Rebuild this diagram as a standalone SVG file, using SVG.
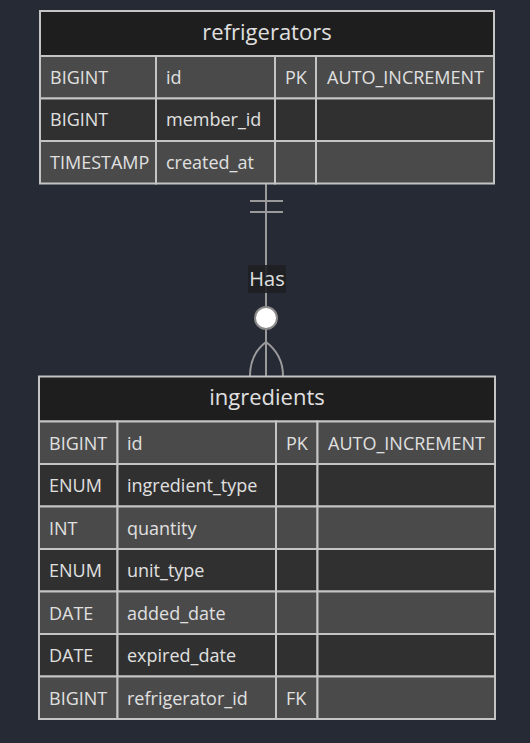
<svg xmlns="http://www.w3.org/2000/svg" width="530" height="743" viewBox="0 0 530 743">
<style>
text{font-family:"Open Sans","DejaVu Sans",sans-serif;fill:#e0e0e0}
.t{font-size:22px;text-anchor:middle}
.c{font-size:18px}
.hd{fill:#1e1e1e;stroke:#c4c4c4;stroke-width:2}
.o{fill:#4a4a4a;stroke:#c4c4c4;stroke-width:2}
.e{fill:#303030;stroke:#c4c4c4;stroke-width:2}
.ln{stroke:#9a9a9a;stroke-width:2;fill:none}
</style>
<rect width="530" height="743" fill="#262a35"/>
<g id="connectors">
<line class="ln" x1="266" y1="184" x2="266" y2="376"/>
<line class="ln" x1="250" y1="201" x2="283" y2="201"/>
<line class="ln" x1="250" y1="212" x2="283" y2="212"/>
<path class="ln" d="M250,376 C250,358 258,348 266,342 C274,348 283,358 283,376"/>
<circle cx="266" cy="318" r="11" fill="#ffffff" stroke="#8a8a8a" stroke-width="2"/>
<rect x="248" y="265" width="38" height="28" fill="#1e1f22" opacity="0.9"/>
<text x="267" y="286" text-anchor="middle" style="font-size:20px">Has</text>
</g>
<g id="refrigerators">
<rect class="hd" x="40" y="11" width="454" height="45"/>
<text class="t" x="267" y="40">refrigerators</text>
<rect class="o" x="40" y="56" width="116" height="42.5"/><rect class="o" x="156" y="56" width="119" height="42.5"/><rect class="o" x="275" y="56" width="41" height="42.5"/><rect class="o" x="316" y="56" width="178" height="42.5"/>
<rect class="e" x="40" y="98.5" width="116" height="42.5"/><rect class="e" x="156" y="98.5" width="119" height="42.5"/><rect class="e" x="275" y="98.5" width="41" height="42.5"/><rect class="e" x="316" y="98.5" width="178" height="42.5"/>
<rect class="o" x="40" y="141" width="116" height="42.5"/><rect class="o" x="156" y="141" width="119" height="42.5"/><rect class="o" x="275" y="141" width="41" height="42.5"/><rect class="o" x="316" y="141" width="178" height="42.5"/>
<text class="c" x="50" y="83.5">BIGINT</text><text class="c" x="166" y="83.5">id</text><text class="c" x="285" y="83.5">PK</text><text class="c" x="327" y="83.5">AUTO_INCREMENT</text>
<text class="c" x="50" y="126">BIGINT</text><text class="c" x="166" y="126">member_id</text>
<text class="c" x="50" y="168.5">TIMESTAMP</text><text class="c" x="166" y="168.5">created_at</text>
</g>
<g id="ingredients">
<rect class="hd" x="39" y="376.5" width="456" height="45"/>
<text class="t" x="267" y="405">ingredients</text>
<rect class="o" x="39" y="421.5" width="78.5" height="42.5"/><rect class="o" x="117.5" y="421.5" width="158.5" height="42.5"/><rect class="o" x="276" y="421.5" width="41.5" height="42.5"/><rect class="o" x="317.5" y="421.5" width="177.5" height="42.5"/>
<rect class="e" x="39" y="464" width="78.5" height="42.5"/><rect class="e" x="117.5" y="464" width="158.5" height="42.5"/><rect class="e" x="276" y="464" width="41.5" height="42.5"/><rect class="e" x="317.5" y="464" width="177.5" height="42.5"/>
<rect class="o" x="39" y="506.5" width="78.5" height="42.5"/><rect class="o" x="117.5" y="506.5" width="158.5" height="42.5"/><rect class="o" x="276" y="506.5" width="41.5" height="42.5"/><rect class="o" x="317.5" y="506.5" width="177.5" height="42.5"/>
<rect class="e" x="39" y="549" width="78.5" height="42.5"/><rect class="e" x="117.5" y="549" width="158.5" height="42.5"/><rect class="e" x="276" y="549" width="41.5" height="42.5"/><rect class="e" x="317.5" y="549" width="177.5" height="42.5"/>
<rect class="o" x="39" y="591.5" width="78.5" height="42.5"/><rect class="o" x="117.5" y="591.5" width="158.5" height="42.5"/><rect class="o" x="276" y="591.5" width="41.5" height="42.5"/><rect class="o" x="317.5" y="591.5" width="177.5" height="42.5"/>
<rect class="e" x="39" y="634" width="78.5" height="42.5"/><rect class="e" x="117.5" y="634" width="158.5" height="42.5"/><rect class="e" x="276" y="634" width="41.5" height="42.5"/><rect class="e" x="317.5" y="634" width="177.5" height="42.5"/>
<rect class="o" x="39" y="676.5" width="78.5" height="42.5"/><rect class="o" x="117.5" y="676.5" width="158.5" height="42.5"/><rect class="o" x="276" y="676.5" width="41.5" height="42.5"/><rect class="o" x="317.5" y="676.5" width="177.5" height="42.5"/>
<text class="c" x="49" y="449.5">BIGINT</text><text class="c" x="127" y="449.5">id</text><text class="c" x="286" y="449.5">PK</text><text class="c" x="328" y="449.5">AUTO_INCREMENT</text>
<text class="c" x="49" y="492">ENUM</text><text class="c" x="127" y="492">ingredient_type</text>
<text class="c" x="49" y="534.5">INT</text><text class="c" x="127" y="534.5">quantity</text>
<text class="c" x="49" y="577">ENUM</text><text class="c" x="127" y="577">unit_type</text>
<text class="c" x="49" y="619.5">DATE</text><text class="c" x="127" y="619.5">added_date</text>
<text class="c" x="49" y="662">DATE</text><text class="c" x="127" y="662">expired_date</text>
<text class="c" x="49" y="704.5">BIGINT</text><text class="c" x="127" y="704.5">refrigerator_id</text><text class="c" x="286" y="704.5">FK</text>
</g>
</svg>
